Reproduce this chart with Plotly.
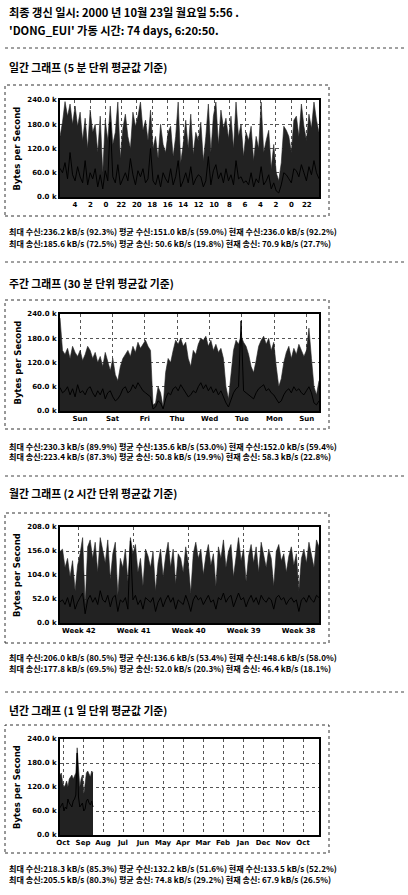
import plotly.graph_objects as go

W, H = 408, 895
def px(x): return x / W
def py(y): return 1 - y / H

# ---------------- text ----------------
header_lines = ["최종 갱신 일시: 2000 년 10월 23일 월요일 5:56 .",
                "'DONG_EUI' 가동 시간: 74 days, 6:20:50."]
chart_titles = ["일간 그래프 (5 분 단위 평균값 기준)",
                "주간 그래프 (30 분 단위 평균값 기준)",
                "월간 그래프 (2 시간 단위 평균값 기준)",
                "년간 그래프 (1 일 단위 평균값 기준)"]
stats_lines = [
    ["최대 수신:236.2 kB/s (92.3%) 평균 수신:151.0 kB/s (59.0%) 현재 수신:236.0 kB/s (92.2%)",
     "최대 송신:185.6 kB/s (72.5%) 평균 송신: 50.6 kB/s (19.8%) 현재 송신: 70.9 kB/s (27.7%)"],
    ["최대 수신:230.3 kB/s (89.9%) 평균 수신:135.6 kB/s (53.0%) 현재 수신:152.0 kB/s (59.4%)",
     "최대 송신:223.4 kB/s (87.3%) 평균 송신: 50.8 kB/s (19.9%) 현재 송신: 58.3 kB/s (22.8%)"],
    ["최대 수신:206.0 kB/s (80.5%) 평균 수신:136.6 kB/s (53.4%) 현재 수신:148.6 kB/s (58.0%)",
     "최대 송신:177.8 kB/s (69.5%) 평균 송신: 52.0 kB/s (20.3%) 현재 송신: 46.4 kB/s (18.1%)"],
    ["최대 수신:218.3 kB/s (85.3%) 평균 수신:132.2 kB/s (51.6%) 현재 수신:133.5 kB/s (52.2%)",
     "최대 송신:205.5 kB/s (80.3%) 평균 송신: 74.8 kB/s (29.2%) 현재 송신: 67.9 kB/s (26.5%)"],
]
y_title = "Bytes per Second"

# ---------------- data (kB/s, newest at left) ----------------
daily_x_labels = ["4", "2", "0", "22", "20", "18", "16", "14", "12", "10", "8", "6", "4", "2", "0", "22"]
daily_y_ticks = [0, 60, 120, 180, 240]
daily_y_labels = ["0.0 k", "60.0 k", "120.0 k", "180.0 k", "240.0 k"]
daily_in = [150, 185, 236, 200, 230, 180, 225, 175, 210, 140, 195, 120, 215, 160,
            180, 110, 200, 60, 190, 140, 225, 130, 160, 235, 95, 170, 205, 150,
            120, 210, 175, 200, 235, 165, 190, 140, 215, 120, 150, 95, 180, 130,
            110, 160, 175, 100, 150, 235, 85, 130, 190, 120, 205, 105, 160, 140,
            185, 90, 150, 230, 110, 200, 235, 130, 215, 170, 195, 145, 200, 120,
            235, 150, 180, 100, 160, 140, 175, 90, 150, 120, 235, 110, 140, 165,
            70, 130, 60, 40, 85, 175, 165, 150, 110, 190, 200, 150, 230, 175,
            140, 205, 170, 235, 190, 160]
daily_out = [71, 60, 85, 45, 110, 55, 40, 75, 50, 35, 90, 30, 60, 45, 70, 25, 55, 20,
             65, 40, 185, 50, 35, 80, 30, 45, 60, 40, 95, 55, 30, 65, 50, 70, 35, 45,
             120, 40, 30, 55, 25, 60, 45, 35, 70, 30, 50, 90, 25, 40, 60, 35, 75, 30,
             45, 55, 50, 25, 40, 100, 30, 65, 80, 45, 60, 35, 70, 40, 55, 30, 90, 45,
             50, 35, 40, 30, 60, 25, 45, 35, 75, 30, 40, 55, 20, 35, 15, 10, 30, 60,
             55, 45, 35, 70, 65, 50, 80, 60, 40, 75, 55, 90, 60, 45]

weekly_x_labels = ["Sun", "Sat", "Fri", "Thu", "Wed", "Tue", "Mon", "Sun"]
weekly_y_ticks = [0, 60, 120, 180, 240]
weekly_y_labels = ["0.0 k", "60.0 k", "120.0 k", "180.0 k", "240.0 k"]
weekly_in = [230, 150, 140, 155, 130, 160, 145, 135, 150, 125, 140, 160, 150, 130,
             145, 120, 135, 110, 145, 125, 100, 130, 90, 75, 110, 130, 140, 150,
             135, 160, 145, 170, 155, 165, 175, 160, 150, 15, 20, 60, 45, 10, 95,
             130, 120, 150, 175, 165, 180, 160, 170, 130, 110, 150, 140, 165, 180,
             175, 185, 160, 175, 150, 165, 145, 155, 130, 60, 30, 90, 150, 175, 165,
             185, 170, 160, 140, 110, 95, 125, 160, 175, 185, 165, 180, 150, 170,
             110, 60, 80, 120, 145, 160, 130, 155, 140, 165, 150, 135, 150, 205,
             130, 60, 40, 75]
weekly_out = [58, 45, 50, 60, 40, 55, 35, 65, 45, 50, 40, 55, 60, 45, 35, 50, 40, 55,
              30, 45, 50, 35, 25, 30, 40, 55, 60, 45, 50, 65, 55, 70, 60, 50, 45, 40,
              35, 5, 10, 25, 20, 5, 30, 45, 40, 55, 60, 50, 65, 55, 45, 35, 40, 50,
              45, 60, 70, 55, 65, 50, 60, 45, 55, 40, 50, 35, 20, 10, 30, 45, 55, 60,
              223, 50, 45, 40, 35, 30, 45, 55, 60, 65, 50, 55, 45, 40, 30, 20, 25, 40,
              50, 55, 45, 60, 50, 55, 45, 40, 50, 60, 45, 20, 15, 25]

monthly_x_labels = ["Week 42", "Week 41", "Week 40", "Week 39", "Week 38"]
monthly_y_ticks = [0, 52, 104, 156, 208]
monthly_y_labels = ["0.0 k", "52.0 k", "104.0 k", "156.0 k", "208.0 k"]
monthly_in = [155, 160, 120, 140, 100, 135, 70, 125, 150, 185, 40, 165, 180, 140,
              175, 110, 185, 160, 130, 180, 95, 150, 175, 60, 140, 120, 160, 90,
              185, 150, 170, 110, 140, 80, 160, 145, 120, 155, 70, 130, 160, 100,
              145, 175, 120, 160, 85, 150, 140, 110, 165, 130, 65, 150, 175, 140,
              160, 105, 145, 170, 125, 150, 80, 165, 140, 180, 120, 155, 170, 100,
              150, 185, 135, 160, 90, 145, 170, 130, 165, 110, 175, 150, 120, 160,
              140, 80, 155, 170, 135, 150, 110, 145, 165, 125, 150, 70, 140, 160,
              130, 175, 150, 120, 180, 165]
monthly_out = [46, 50, 40, 55, 35, 60, 30, 45, 55, 65, 20, 50, 60, 45, 55, 40, 70, 50,
               45, 60, 35, 55, 60, 25, 50, 45, 55, 30, 178, 50, 60, 40, 50, 30, 55, 50,
               45, 55, 25, 45, 55, 35, 50, 60, 45, 55, 30, 50, 45, 40, 60, 45, 25, 50,
               60, 50, 55, 40, 50, 60, 45, 50, 30, 55, 50, 65, 45, 55, 60, 35, 50, 65,
               50, 55, 35, 50, 60, 45, 55, 40, 60, 50, 45, 55, 50, 30, 55, 60, 50, 55,
               40, 50, 55, 45, 50, 25, 50, 55, 45, 60, 50, 45, 60, 55]

yearly_x_labels = ["Oct", "Sep", "Aug", "Jul", "Jun", "May", "Apr", "Mar", "Feb",
                   "Jan", "Dec", "Nov", "Oct"]
yearly_y_ticks = [0, 60, 120, 180, 240]
yearly_y_labels = ["0.0 k", "60.0 k", "120.0 k", "180.0 k", "240.0 k"]
yearly_in = [150, 155, 130, 120, 125, 135, 120, 140, 145, 150, 140, 150, 155, 218,
             160, 120, 140, 150, 100, 130, 155, 160, 150, 145, 160, 155]
yearly_out = [68, 75, 80, 60, 70, 65, 90, 80, 75, 70, 85, 90, 100, 205, 95, 70, 75,
              80, 60, 65, 85, 90, 80, 75, 85, 70]

# ---------------- layout geometry (pixels) ----------------
charts = [
    dict(inn=daily_in, out=daily_out, span=33.5, data_span=33.5, labels=daily_x_labels,
         t0=1.93, dt=2.0, yt=daily_y_ticks, yl=daily_y_labels, top=100, bot=197,
         box=(85, 216), title_y=67, stats_y=(232, 243)),
    dict(inn=weekly_in, out=weekly_out, span=8.0, data_span=8.0, labels=weekly_x_labels,
         t0=0.62, dt=1.0, yt=weekly_y_ticks, yl=weekly_y_labels, top=314, bot=411,
         box=(300, 429), title_y=283, stats_y=(446, 457)),
    dict(inn=monthly_in, out=monthly_out, span=33.0, data_span=33.0, labels=monthly_x_labels,
         t0=2.4, dt=7.0, yt=monthly_y_ticks, yl=monthly_y_labels, top=527, bot=623,
         box=(513, 643), title_y=493, stats_y=(657, 668)),
    dict(inn=yearly_in, out=yearly_out, span=12.95, data_span=1.65, labels=yearly_x_labels,
         t0=0.15, dt=1.0, yt=yearly_y_ticks, yl=yearly_y_labels, top=739, bot=835,
         box=(725, 853), title_y=710, stats_y=(868, 879)),
]
PL, PR = 60, 319
separators = [48, 262, 476, 692]

fig = go.Figure()
annotations = []
shapes = []
KFONT = "Noto Sans CJK KR"
TFONT = "DejaVu Sans"

for i, c in enumerate(charts):
    n = i + 1
    xa = "x" if n == 1 else f"x{n}"
    ya = "y" if n == 1 else f"y{n}"
    step = c["data_span"] / (len(c["inn"]) - 1)
    xs = [k * step for k in range(len(c["inn"]))]
    fig.add_trace(go.Scatter(
        x=xs, y=c["inn"], mode="lines", fill="tozeroy", fillcolor="#222222",
        xaxis=xa, yaxis=ya, line=dict(color="#222222", width=0.6),
        showlegend=False, hoverinfo="skip"))
    step_o = c["data_span"] / (len(c["out"]) - 1)
    xo = [k * step_o for k in range(len(c["out"]))]
    fig.add_trace(go.Scatter(
        x=xo, y=c["out"], mode="lines", xaxis=xa, yaxis=ya,
        line=dict(color="#000000", width=1), showlegend=False, hoverinfo="skip"))

    tickvals = [c["t0"] + c["dt"] * k for k in range(len(c["labels"]))]
    common = dict(tickmode="array", ticks="", showgrid=True, gridcolor="#555555",
                  griddash="dot", gridwidth=1, showline=True, linecolor="black",
                  linewidth=2, mirror=True, zeroline=False, fixedrange=True,
                  automargin=False, layer="above traces",
                  tickfont=dict(family=TFONT, size=7, color="black", weight="bold"))
    axis_x = dict(domain=[px(PL), px(PR)], range=[0, c["span"]], anchor=ya,
                  tickvals=tickvals, ticktext=c["labels"], **common)
    axis_y = dict(domain=[py(c["bot"]), py(c["top"])], range=[0, max(c["yt"])], anchor=xa,
                  tickvals=c["yt"], ticktext=c["yl"], **common)
    fig.update_layout(**{("xaxis" if n == 1 else f"xaxis{n}"): axis_x,
                         ("yaxis" if n == 1 else f"yaxis{n}"): axis_y})

    annotations.append(dict(text=chart_titles[i], x=px(7), y=py(c["title_y"]),
                            xref="paper", yref="paper", xanchor="left", yanchor="middle",
                            showarrow=False,
                            font=dict(family=KFONT, size=10.8, color="black", weight="bold")))
    for j, line in enumerate(stats_lines[i]):
        annotations.append(dict(text=line, x=px(7), y=py(c["stats_y"][j]),
                                xref="paper", yref="paper", xanchor="left", yanchor="middle",
                                showarrow=False,
                                font=dict(family=KFONT, size=8.1, color="black", weight="bold")))
    annotations.append(dict(text=y_title, x=px(17), y=py((c["top"] + c["bot"]) / 2),
                            xref="paper", yref="paper", xanchor="center", yanchor="middle",
                            textangle=-90, showarrow=False,
                            font=dict(family=TFONT, size=8.5, color="black", weight="bold")))
    shapes.append(dict(type="rect", xref="paper", yref="paper",
                       x0=px(5), x1=px(329), y0=py(c["box"][1]), y1=py(c["box"][0]),
                       line=dict(color="#333333", width=1, dash="dot")))

for j, line in enumerate(header_lines):
    annotations.append(dict(text=line, x=px(7), y=py(12 + 17.5 * j), xref="paper", yref="paper",
                            xanchor="left", yanchor="middle", showarrow=False,
                            font=dict(family=KFONT, size=11.2, color="black", weight="bold")))

for s in separators:
    shapes.append(dict(type="line", xref="paper", yref="paper", x0=px(5), x1=px(406),
                       y0=py(s), y1=py(s), line=dict(color="#444444", width=1, dash="dot")))

fig.update_layout(width=W, height=H, margin=dict(l=0, r=0, t=0, b=0),
                  paper_bgcolor="white", plot_bgcolor="white",
                  annotations=annotations, shapes=shapes,
                  font=dict(family=KFONT, color="black"))

fig.write_html("out.html", config={"displayModeBar": False},
               post_script="document.body.style.margin='0';document.body.style.overflow='hidden';")
